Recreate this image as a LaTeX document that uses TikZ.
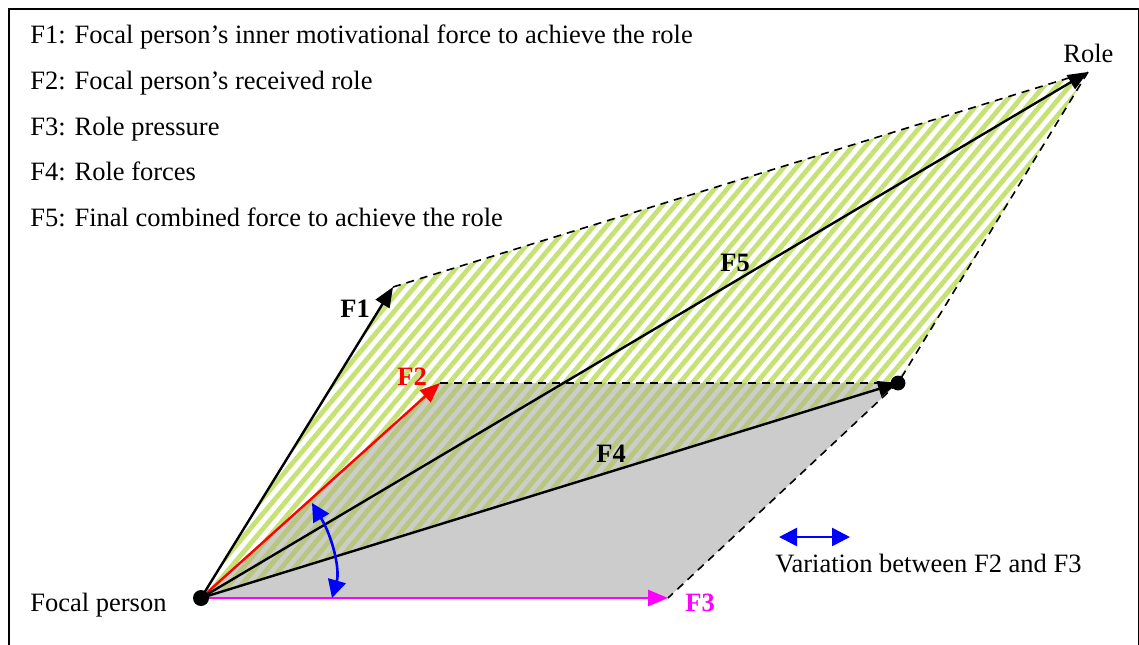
\documentclass[tikz,border=0pt]{standalone}
\usepackage{fontspec}
\setmainfont{Liberation Serif}
\usetikzlibrary{arrows.meta,patterns.meta}
\definecolor{hatchgreen}{RGB}{198,226,116}
\definecolor{hatcholive}{RGB}{184,198,128}
\definecolor{areagray}{RGB}{204,204,204}
\definecolor{fmagenta}{RGB}{255,0,255}
\definecolor{fblue}{RGB}{0,0,255}
\definecolor{fred}{RGB}{255,0,0}

\begin{document}
\begin{tikzpicture}[x=0.5pt,y=-0.5pt,>={Triangle[length=10pt,width=8pt]},
  txt/.style={anchor=base west,inner sep=0pt,font=\fontsize{13.25}{16}\selectfont},
  flabel/.style={txt,font=\fontsize{13.25}{16}\selectfont\bfseries},
  force/.style={->,line width=1.2pt},
  guide/.style={dashed,dash pattern=on 4pt off 3pt,line width=0.8pt},
  hatch/.style={pattern={Lines[angle=50,distance=4.9pt,line width=2.4pt]}},
  vary/.style={{Triangle[length=9pt,width=9pt]}-{Triangle[length=9pt,width=9pt]},fblue,line width=1.3pt}]
\useasboundingbox (0,0) rectangle (1139,644);
\draw[line width=1pt] (9,9) rectangle (1138.5,648);
% corner points of the two parallelograms
\coordinate (fp) at (201,598);
\coordinate (f1) at (393,287);
\coordinate (f2) at (440,383);
\coordinate (f3) at (668,598);
\coordinate (f4) at (898,383);
\coordinate (role) at (1088,72);
% areas
\fill[areagray] (fp)--(f2)--(f4)--(f3)--cycle;
\fill[hatch,pattern color=hatchgreen] (fp)--(f1)--(role)--(f4)--cycle;
\begin{scope}
\clip (fp)--(f2)--(f4)--(f3)--cycle;
\fill[hatch,pattern color=hatcholive] (fp)--(f1)--(role)--(f4)--cycle;
\end{scope}
\draw[guide] (f1)--(role);
\draw[guide] (role)--(f4);
\draw[guide] (f2)--(f4);
\draw[guide] (f4)--(f3);
% forces
\draw[force] (fp)--(f1);
\draw[force,fred] (fp)--(f2);
\draw[force,fmagenta,line width=1.4pt] (fp)--(f3);
\draw[force] (fp)--(f4);
\draw[force] (fp)--(role);
\fill (fp) circle (4pt);
\fill (f4) circle (3.7pt);
% variation
\coordinate (va) at (312,503);
\coordinate (vb) at (332,598);
\draw[vary] (va) .. controls (333,538) and (340,570) .. (vb);
\coordinate (ka) at (779,537);
\coordinate (kb) at (850,537);
\draw[vary] (ka)--(kb);
% labels
\node[txt] (l1) at (30,43) {F1: Focal person’s inner motivational force to achieve the role};
\node[txt] (l2) at (30,89) {F2: Focal person’s received role};
\node[txt] (l3) at (30,135) {F3: Role pressure};
\node[txt] (l4) at (30,180) {F4: Role forces};
\node[txt] (l5) at (30,226) {F5: Final combined force to achieve the role};
\node[txt] (tfp) at (30,611) {Focal person};
\node[txt] (trole) at (1063,62) {Role};
\node[txt] (tvar) at (775,572) {Variation between F2 and F3};
\node[flabel] (n1) at (340,317) {F1};
\node[flabel,text=fred] (n2) at (397,385) {F2};
\node[flabel,text=fmagenta] (n3) at (685,611) {F3};
\node[flabel] (n4) at (596,462) {F4};
\node[flabel] (n5) at (720,271) {F5};
\end{tikzpicture}
\end{document}
